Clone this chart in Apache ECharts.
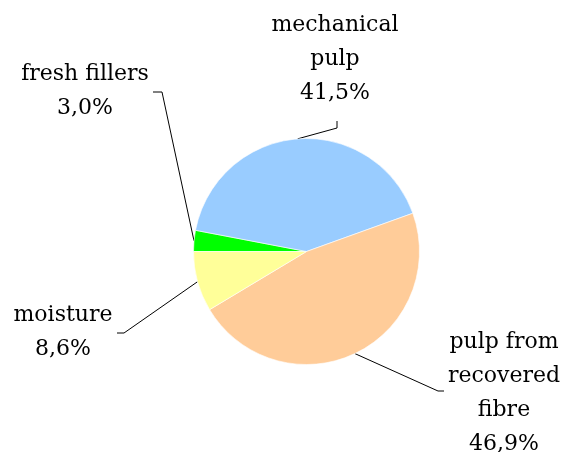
<!DOCTYPE html>
<html>
<head>
<meta charset="utf-8">
<script src="https://cdn.jsdelivr.net/npm/echarts@6/dist/echarts.min.js"></script>
<style>
html,body{margin:0;padding:0;background:#fff;}
#chart{width:564px;height:452px;}
</style>
</head>
<body>
<div id="chart"></div>
<script>
// Data
var categories = ['fresh fillers', 'mechanical pulp', 'pulp from recovered fibre', 'moisture'];
var labelNames = ['fresh fillers', 'mechanical\npulp', 'pulp from\nrecovered\nfibre', 'moisture'];
var values = [3.0, 41.5, 46.9, 8.6];
var colors = ['#00FF00', '#99CCFF', '#FFCC99', '#FFFF99'];

// Label placement (layout only): label centre and leader-line bend/end points
var labelPlace = [
  { x: 85,  y: 91,  line: [[162, 92], [153, 92]] },
  { x: 335, y: 59,  line: [[337, 128], [337, 121]] },
  { x: 504, y: 393, line: [[438, 391], [444, 391]] },
  { x: 63,  y: 332, line: [[124, 333], [117, 333]] }
];

var chart = echarts.init(document.getElementById('chart'), null, { renderer: 'canvas' });
var data = categories.map(function (c, i) {
  return { name: c, value: values[i], itemStyle: { color: colors[i] } };
});

chart.setOption({
  animation: false,
  backgroundColor: '#ffffff',
  textStyle: { fontFamily: 'DejaVu Serif' },
  series: [{
    type: 'pie',
    center: [306.5, 251.5],
    radius: 113,
    startAngle: 180,
    clockwise: true,
    avoidLabelOverlap: false,
    itemStyle: { borderColor: '#ffffff', borderWidth: 0.6 },
    emphasis: { disabled: true },
    label: {
      show: true,
      position: 'outside',
      color: '#000000',
      fontFamily: 'DejaVu Serif',
      fontSize: 22,
      lineHeight: 34,
      align: 'center',
      formatter: function (p) {
        return labelNames[p.dataIndex] + '\n' + p.percent.toFixed(1).replace('.', ',') + '%';
      }
    },
    labelLine: {
      show: true,
      length: 10,
      length2: 10,
      lineStyle: { color: '#000000', width: 1 }
    },
    labelLayout: function (params) {
      var pl = labelPlace[params.dataIndex];
      var start = params.labelLinePoints ? params.labelLinePoints[0] : pl.line[0];
      return {
        x: pl.x,
        y: pl.y,
        align: 'center',
        verticalAlign: 'middle',
        labelLinePoints: [start, pl.line[0], pl.line[1]]
      };
    },
    data: data
  }]
});
</script>
</body>
</html>
